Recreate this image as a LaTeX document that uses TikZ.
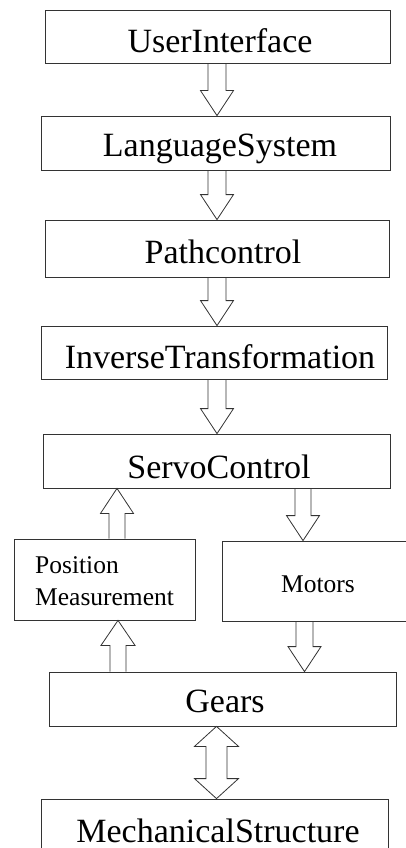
\documentclass[tikz,border=0pt]{standalone}
\usepackage{fontspec}
\setmainfont{Liberation Serif}
\tikzset{
  box/.style={draw=black!80, line width=0.8pt, inner sep=0pt, fill=none},
  big/.style={anchor=base, inner sep=0pt, font=\fontsize{34}{34}\selectfont},
  small/.style={anchor=base west, inner sep=0pt, font=\fontsize{25.5}{25.5}\selectfont},
  blk/.style={draw=black!80, line width=0.8pt, line join=miter},
}
% #1 column, #2 from node (below it), #3 to node; #4 shaft half, #5 head half, #6 head length
\newcommand\blkdown[6]{%
  \draw[blk] ([xshift=-#4pt]#1 |- #2.south) -- ([xshift=-#4pt,yshift=#6pt]#1 |- #3.north)
    -- ([xshift=-#5pt,yshift=#6pt]#1 |- #3.north) -- (#1 |- #3.north)
    -- ([xshift=#5pt,yshift=#6pt]#1 |- #3.north) -- ([xshift=#4pt,yshift=#6pt]#1 |- #3.north)
    -- ([xshift=#4pt]#1 |- #2.south);}
\newcommand\blkup[6]{%
  \draw[blk] ([xshift=-#4pt]#1 |- #2.north) -- ([xshift=-#4pt,yshift=-#6pt]#1 |- #3.south)
    -- ([xshift=-#5pt,yshift=-#6pt]#1 |- #3.south) -- (#1 |- #3.south)
    -- ([xshift=#5pt,yshift=-#6pt]#1 |- #3.south) -- ([xshift=#4pt,yshift=-#6pt]#1 |- #3.south)
    -- ([xshift=#4pt]#1 |- #2.north);}
\begin{document}
\begin{tikzpicture}[x=1pt,y=-1pt]
\useasboundingbox (0,0) rectangle (406,848);
\clip (0,0) rectangle (406,848);
% boxes
\node[box, minimum width=345pt, minimum height=53pt] (ui) at (217.5,36.5) {};
\node[box, minimum width=349pt, minimum height=54pt] (ls) at (215.5,143) {};
\node[box, minimum width=344pt, minimum height=57pt] (pc) at (217,248.5) {};
\node[box, minimum width=346pt, minimum height=53pt] (it) at (214,352.5) {};
\node[box, minimum width=347pt, minimum height=54pt] (sc) at (216.5,461) {};
\node[box, minimum width=181pt, minimum height=81pt] (pm) at (104.5,579.5) {};
\node[box, minimum width=200pt, minimum height=80pt] (mo) at (322,581) {};
\node[box, minimum width=347pt, minimum height=54pt] (ge) at (222.5,699) {};
\node[box, minimum width=347pt, minimum height=80pt] (ms) at (214.5,839) {};
% labels
\node[big] (tui) at (220,53) {UserInterface};
\node[big] (tls) at (220,157) {LanguageSystem};
\node[big] (tpc) at (223,263) {Pathcontrol};
\node[big] (tit) at (220,368) {InverseTransformation};
\node[big] (tsc) at (219,478) {ServoControl};
\node[small] (tpm1) at (35,573) {Position};
\node[small] (tpm2) at (35,605) {Measurement};
\node[small, anchor=base] (tmo) at (318,592) {Motors};
\node[big] (tge) at (225,712) {Gears};
\node[big] (tms) at (218,842) {MechanicalStructure};
% columns
\coordinate (c1) at (217,0);
\coordinate (c2) at (117,0);
\coordinate (c3) at (303,0);
\coordinate (c4) at (118,0);
\coordinate (c5) at (304.5,0);
\coordinate (c6) at (216.5,0);
% arrows
\blkdown{c1}{ui}{ls}{9}{16.5}{25}
\blkdown{c1}{ls}{pc}{9}{16.5}{25}
\blkdown{c1}{pc}{it}{9}{16.5}{25}
\blkdown{c1}{it}{sc}{9}{16.5}{25}
\blkup{c2}{pm}{sc}{8}{16.5}{25}
\blkdown{c3}{sc}{mo}{8}{16.5}{25}
\blkup{c4}{ge}{pm}{8}{17}{25}
\blkdown{c5}{mo}{ge}{8.5}{16.5}{25}
% double arrow gears <-> mechanical structure
\draw[blk] (c6 |- ge.south)
  -- ([xshift=22pt,yshift=-20pt]c6 |- ge.south) -- ([xshift=10.5pt,yshift=-20pt]c6 |- ge.south)
  -- ([xshift=10.5pt,yshift=20pt]c6 |- ms.north) -- ([xshift=22pt,yshift=20pt]c6 |- ms.north)
  -- (c6 |- ms.north)
  -- ([xshift=-22pt,yshift=20pt]c6 |- ms.north) -- ([xshift=-10.5pt,yshift=20pt]c6 |- ms.north)
  -- ([xshift=-10.5pt,yshift=-20pt]c6 |- ge.south) -- ([xshift=-22pt,yshift=-20pt]c6 |- ge.south)
  -- cycle;
\end{tikzpicture}
\end{document}
